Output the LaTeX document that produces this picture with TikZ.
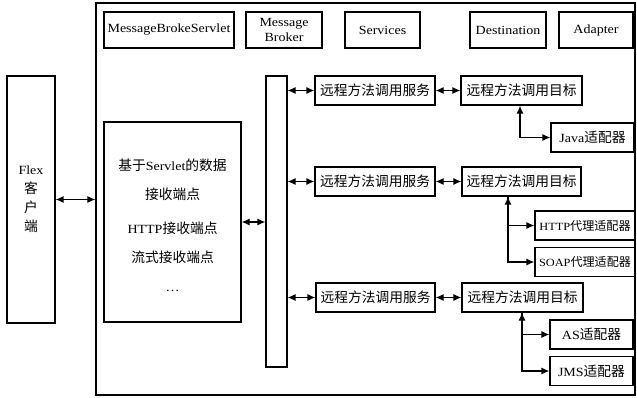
\documentclass[tikz,border=0pt]{standalone}
\usepackage{fontspec}
\setmainfont{Liberation Serif}[FakeStretch=1.12]
\newfontfamily\cjk{Noto Sans CJK SC}[Scale=1.1]
\usetikzlibrary{arrows.meta}

\begin{document}
\begin{tikzpicture}[x=1pt, y=-1pt, >={Latex[length=8pt,width=7pt]}, line width=1.2pt]
    \tikzstyle{every node}=[font=\fontsize{12.5}{15}\selectfont]
    \tikzstyle{box}=[rectangle, draw, inner sep=0pt, align=center]
    \tikzstyle{head}=[box, minimum height=36pt]
    \tikzstyle{row}=[box, minimum height=29pt]
    \tikzstyle{narrow}=[font=\fontsize{11}{13}\selectfont]
    \tikzstyle{link}=[<->]
    \useasboundingbox (0,0) rectangle (637,398);

    % frame and client
    \node[box, minimum width=539pt, minimum height=392pt] (frame) at (365.5,199) {};
    \node[box, minimum width=48pt, minimum height=247pt] (flex) at (31,199.5)
        {Flex\\[4pt]{\cjk 客}\\[4pt]{\cjk 户}\\[4pt]{\cjk 端}};

    % header row
    \node[head, minimum width=130pt] (servlet) at (169,30)   {MessageBrokeServlet};
    \node[head, minimum width=76pt]  (broker)  at (284,30)   {Message\\Broker};
    \node[head, minimum width=75pt]  (services) at (382.5,30) {Services};
    \node[head, minimum width=76pt]  (dest)    at (508,30)   {Destination};
    \node[head, minimum width=74pt]  (adapter) at (596,30)   {Adapter};

    % endpoints and bus
    \node[box, minimum width=137pt, minimum height=200pt] (endpt) at (172.5,222) {};
    \node[align=center] (eptxt) at (172.5,225)
        {{\cjk 基于}Servlet{\cjk 的数据}\\[14pt]{\cjk 接收端点}\\[19pt]HTTP{\cjk 接收端点}\\[14pt]{\cjk 流式接收端点}\\[14pt]\dots};
    \node[box, minimum width=21pt, minimum height=291pt] (bus) at (276.5,221.5) {};

    % services and destinations
    \node[row, minimum width=120pt] (svc1) at (375,90.5)  {\cjk 远程方法调用服务};
    \node[row, minimum width=120pt] (svc2) at (375,181.5) {\cjk 远程方法调用服务};
    \node[row, minimum width=119pt] (svc3) at (375.5,297.5) {\cjk 远程方法调用服务};
    \node[row, minimum width=121pt] (tgt1) at (521.5,90.5)  {\cjk 远程方法调用目标};
    \node[row, minimum width=119pt] (tgt2) at (521.5,181.5) {\cjk 远程方法调用目标};
    \node[row, minimum width=121pt] (tgt3) at (522.5,297.5) {\cjk 远程方法调用目标};

    % adapters
    \node[row, minimum width=83pt]  (javaad) at (592.5,137.5) {Java{\cjk 适配器}};
    \node[row, narrow, minimum width=100pt] (httpad) at (585,225.5) {HTTP{\cjk 代理适配器}};
    \node[row, narrow, minimum width=100pt] (soapad) at (585,262)   {SOAP{\cjk 代理适配器}};
    \node[row, minimum width=83pt]  (asad)   at (591.5,334.5) {AS{\cjk 适配器}};
    \node[row, minimum width=83pt]  (jmsad)  at (591.5,371)   {JMS{\cjk 适配器}};

    % connectors
    \draw[link] (flex) -- (flex -| frame.west);
    \draw[link] (endpt) -- (endpt -| bus.west);
    \foreach \r in {1,2,3} {
        \draw[link] (svc\r -| bus.east) -- (svc\r);
        \draw[link] (svc\r) -- (tgt\r);
    }
    \coordinate (fork1) at ([xshift=-1.5pt]tgt1.south);
    \coordinate (fork2) at ([xshift=-13.5pt]tgt2.south);
    \coordinate (fork3) at ([xshift=-0.5pt]tgt3.south);
    \draw[link] (fork1) |- (javaad);
    \draw[link] (fork2) |- (soapad);
    \draw[->]   (fork2) |- (httpad);
    \draw[link] (fork3) |- (jmsad);
    \draw[->]   (fork3) |- (asad);
\end{tikzpicture}
\end{document}
